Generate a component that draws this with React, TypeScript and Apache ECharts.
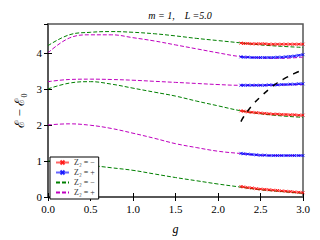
import React, { useEffect, useRef } from "react";
import * as echarts from "echarts";

const gGrid = [0, 0.25, 0.5, 0.75, 1.0, 1.25, 1.5, 1.75, 2.0, 2.25, 2.5, 2.75, 3.0];
const greenTop = [4.2, 4.5, 4.57, 4.59, 4.57, 4.53, 4.47, 4.4, 4.34, 4.28, 4.22, 4.18, 4.15];
const purpleTop = [4.0, 4.41, 4.5, 4.5, 4.42, 4.33, 4.22, 4.11, 4.0, 3.9, 3.86, 3.85, 3.88];
const purpleMid = [3.2, 3.26, 3.27, 3.26, 3.24, 3.21, 3.18, 3.15, 3.12, 3.1, 3.1, 3.11, 3.12];
const greenMid = [3.0, 3.16, 3.2, 3.13, 3.02, 2.91, 2.8, 2.66, 2.53, 2.4, 2.31, 2.25, 2.21];
const purpleLow = [2.0, 2.03, 1.99, 1.9, 1.77, 1.63, 1.48, 1.37, 1.27, 1.21, 1.16, 1.15, 1.15];
const greenLow = [1.0, 0.95, 0.88, 0.81, 0.74, 0.64, 0.54, 0.45, 0.36, 0.28, 0.2, 0.15, 0.1];

const gZ = [2.27, 2.3, 2.35, 2.4, 2.45, 2.5, 2.55, 2.6, 2.65, 2.7, 2.75, 2.8, 2.85, 2.9, 2.95, 3.0];
const redTop = [4.27, 4.26, 4.26, 4.25, 4.25, 4.25, 4.25, 4.24, 4.24, 4.24, 4.24, 4.24, 4.24, 4.24, 4.24, 4.24];
const blueTop = [3.89, 3.88, 3.88, 3.87, 3.87, 3.87, 3.87, 3.87, 3.87, 3.88, 3.88, 3.89, 3.9, 3.91, 3.93, 3.95];
const blueMid = [3.1, 3.1, 3.1, 3.1, 3.1, 3.1, 3.1, 3.11, 3.11, 3.11, 3.12, 3.12, 3.13, 3.13, 3.14, 3.14];
const redMid = [2.39, 2.38, 2.36, 2.35, 2.34, 2.33, 2.32, 2.31, 2.3, 2.3, 2.29, 2.29, 2.28, 2.28, 2.27, 2.27];
const blueLow = [1.21, 1.2, 1.19, 1.18, 1.17, 1.16, 1.16, 1.15, 1.15, 1.15, 1.15, 1.15, 1.15, 1.15, 1.15, 1.15];
const redLow = [0.29, 0.28, 0.26, 0.25, 0.23, 0.22, 0.21, 0.2, 0.19, 0.18, 0.17, 0.16, 0.15, 0.14, 0.13, 0.12];

const gCross = [2.27, 2.3, 2.4, 2.5, 2.6, 2.7, 2.8, 2.9, 3.0];
const crossVals = [2.09, 2.22, 2.54, 2.78, 2.99, 3.17, 3.31, 3.43, 3.53];

const legendNames: Record<string, string> = {
  red: "Z\u2082 = \u2212",
  blue: "Z\u2082 = +",
  green: "Z\u2082 = \u2212",
  purple: "Z\u2082 = +",
};

const RED = "#ff0000";
const BLUE = "#0000ff";
const GREEN = "#008000";
const PURPLE = "#bf00bf";
const SERIF = "serif";
const XSYM = "path://M0,0L10,10M10,0L0,10";

const zip = (xs: number[], ys: number[]) => xs.map((x, i) => [x, ys[i]]);

export default function App() {
  const ref = useRef<HTMLDivElement>(null);
  useEffect(() => {
    if (!ref.current) return;
    const chart = echarts.init(ref.current, null, { renderer: "svg" });
    const dashed = (name: string, color: string, ys: number[]) => ({
      name,
      type: "line",
      data: zip(gGrid, ys),
      smooth: 0.4,
      symbol: "none",
      lineStyle: { color, width: 1, type: [4, 2] },
      itemStyle: { color },
      z: 2,
    });
    const marked = (name: string, color: string, ys: number[]) => ({
      name,
      type: "line",
      data: zip(gZ, ys),
      smooth: 0.3,
      symbol: XSYM,
      symbolSize: 3,
      showSymbol: true,
      lineStyle: { color, width: 2, opacity: 0.6 },
      itemStyle: { color, borderColor: color, borderWidth: 1, opacity: 0.8 },
      z: 3,
    });
    const axisText = { fontFamily: SERIF, fontSize: 11, color: "#000" };
    chart.setOption({
      animation: false,
      title: {
        text: "m = 1,    L =5.0",
        left: 175,
        textAlign: "center",
        top: 5,
        textStyle: { fontFamily: SERIF, fontStyle: "italic", fontWeight: "normal", fontSize: 10, color: "#000" },
      },
      grid: {
        left: 48,
        right: 17,
        top: 24,
        bottom: 39,
        show: true,
        borderColor: "#555",
        borderWidth: 1.5,
        backgroundColor: "#fff",
      },
      legend: {
        orient: "vertical",
        left: 50,
        top: 157,
        data: [
          { name: "red" },
          { name: "blue" },
          { name: "green", itemStyle: { opacity: 0 } },
          { name: "purple", itemStyle: { opacity: 0 } },
        ],
        formatter: (n: string) => legendNames[n],
        itemWidth: 13,
        itemHeight: 5,
        itemGap: 1,
        padding: [1, 4, 2, 5],
        borderColor: "#000",
        borderWidth: 1,
        backgroundColor: "#fff",
        textStyle: { fontFamily: SERIF, fontSize: 8, lineHeight: 9, color: "#333" },
      },
      xAxis: [
        {
          type: "value",
          min: 0,
          max: 3,
          interval: 0.5,
          name: "g",
          nameLocation: "middle",
          nameGap: 26,
          nameTextStyle: { fontFamily: SERIF, fontStyle: "italic", fontSize: 12, color: "#000" },
          axisLine: { show: true, lineStyle: { color: "#555", width: 1.5 } },
          axisTick: { inside: true, length: 4, lineStyle: { color: "#000" } },
          axisLabel: { ...axisText, margin: 6, formatter: (v: number) => v.toFixed(1) },
          splitLine: { show: false },
        },
        {
          type: "value",
          position: "top",
          min: 0,
          max: 3,
          interval: 0.5,
          axisLine: { show: true, lineStyle: { color: "#555", width: 1.5 } },
          axisTick: { inside: true, length: 4, lineStyle: { color: "#000" } },
          axisLabel: { show: false },
          splitLine: { show: false },
        },
      ],
      yAxis: [
        {
          type: "value",
          min: 0,
          max: 4.8,
          interval: 1,
          name: "\u2130 \u2212 \u2130\u2080",
          nameLocation: "middle",
          nameRotate: 90,
          nameGap: 20,
          nameTextStyle: { fontFamily: SERIF, fontSize: 13, color: "#000" },
          axisLine: { show: true, lineStyle: { color: "#555", width: 1.5 } },
          axisTick: { inside: true, length: 4, lineStyle: { color: "#000" } },
          axisLabel: { ...axisText, margin: 6, showMaxLabel: false },
          splitLine: { show: false },
        },
        {
          type: "value",
          position: "right",
          min: 0,
          max: 4.8,
          interval: 1,
          axisLine: { show: true, lineStyle: { color: "#555", width: 1.5 } },
          axisTick: { inside: true, length: 4, lineStyle: { color: "#000" } },
          axisLabel: { show: false },
          splitLine: { show: false },
        },
      ],
      series: [
        dashed("green", GREEN, greenTop),
        dashed("purple", PURPLE, purpleTop),
        dashed("purple", PURPLE, purpleMid),
        dashed("green", GREEN, greenMid),
        dashed("purple", PURPLE, purpleLow),
        dashed("green", GREEN, greenLow),
        marked("red", RED, redTop),
        marked("blue", BLUE, blueTop),
        marked("blue", BLUE, blueMid),
        marked("red", RED, redMid),
        marked("blue", BLUE, blueLow),
        marked("red", RED, redLow),
        {
          name: "cross",
          type: "line",
          data: zip(gCross, crossVals),
          smooth: 0.4,
          symbol: "none",
          lineStyle: { color: "#000", width: 1.5, type: [6, 6] },
          z: 4,
        },
      ],
    });
    return () => chart.dispose();
  }, []);
  return <div ref={ref} style={{ width: 320, height: 240, position: "absolute", left: 0, top: 0 }} />;
}
